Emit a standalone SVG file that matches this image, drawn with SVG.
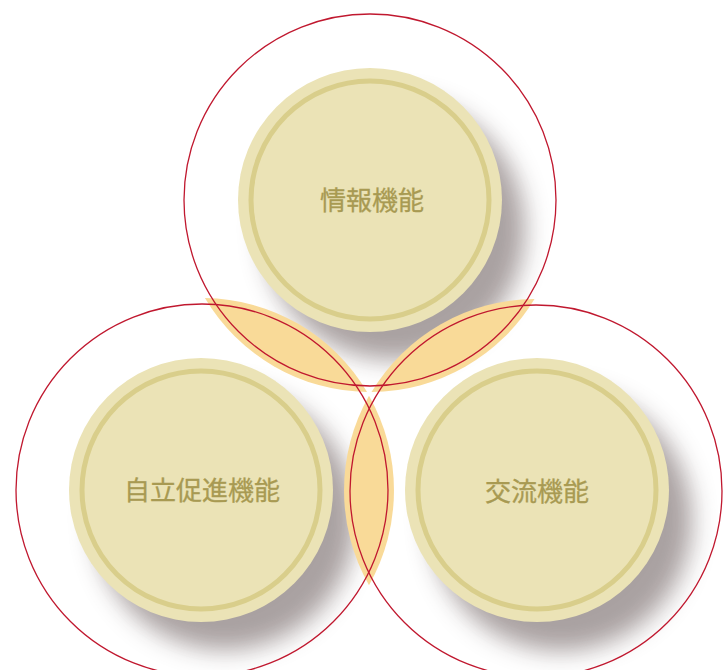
<svg xmlns="http://www.w3.org/2000/svg" width="726" height="670" viewBox="0 0 726 670">
  <defs>
    <filter id="blur" x="-30%" y="-30%" width="160%" height="160%">
      <feGaussianBlur stdDeviation="12"/>
    </filter>
    <style>
      .shadow { fill: #a59c9c; opacity: 0.95; filter: url(#blur); }
      .lens { fill: #f9da98; }
      .disc { fill: #ebe3b6; }
      .ring { fill: none; stroke: #d9ce8b; stroke-width: 5; }
      .outer { fill: none; stroke: #c0182f; stroke-width: 1.3; }
      .label { font-family: "Noto Sans CJK JP", "Noto Sans CJK SC", sans-serif; font-size: 26px; font-weight: 400; fill: #a89a52; stroke: #a89a52; stroke-width: 0.3; text-anchor: middle; dominant-baseline: central; }
    </style>
  </defs>
  <rect width="726" height="670" fill="#ffffff"/>

  <g id="shadows">
    <circle class="shadow" cx="394" cy="229" r="131"/>
    <circle class="shadow" cx="225" cy="519" r="131"/>
    <circle class="shadow" cx="561" cy="520" r="131"/>
  </g>

  <g id="connectors">
    <path class="lens" d="M204.9,298 A192,192 0 0 0 367.1,392 A192,192 0 0 0 204.9,298 Z"/>
    <path class="lens" d="M534.5,299 A192,192 0 0 1 371.5,392 A192,192 0 0 1 534.5,299 Z"/>
    <path class="lens" d="M369,395.8 A192,192 0 0 1 369,585.2 A192,192 0 0 1 369,395.8 Z"/>
  </g>

  <g id="node-info">
    <circle class="disc" cx="370" cy="200" r="132"/>
    <circle class="ring" cx="370" cy="200" r="119"/>
    <text class="label" x="372" y="198">情報機能</text>
  </g>

  <g id="node-independence">
    <circle class="disc" cx="201" cy="490" r="132"/>
    <circle class="ring" cx="201" cy="490" r="119"/>
    <text class="label" x="202" y="488">自立促進機能</text>
  </g>

  <g id="node-exchange">
    <circle class="disc" cx="537" cy="490" r="132"/>
    <circle class="ring" cx="537" cy="490" r="119"/>
    <text class="label" x="537" y="489">交流機能</text>
  </g>

  <g id="outer-circles">
    <circle class="outer" cx="370" cy="200" r="186"/>
    <circle class="outer" cx="202" cy="490" r="186"/>
    <circle class="outer" cx="536" cy="491" r="186"/>
  </g>
</svg>
